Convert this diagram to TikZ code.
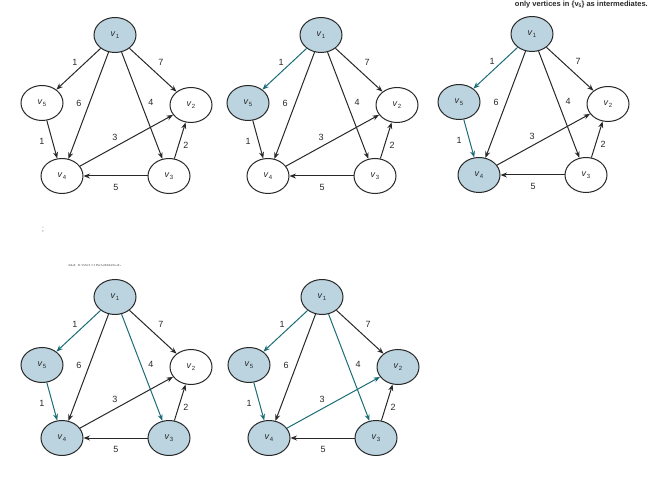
\documentclass[tikz,border=0pt]{standalone}
\usepackage{fontspec}
\setmainfont{Liberation Sans}
\usetikzlibrary{shapes.geometric,arrows.meta}
\definecolor{nodefill}{RGB}{188,212,224}
\definecolor{tealedge}{RGB}{28,108,118}
\definecolor{inkgray}{RGB}{40,40,40}
\newcommand\vsub[1]{\textit{v}\kern0.3pt\raisebox{-0.45ex}{\fontsize{6}{6}\selectfont #1}}
\tikzset{
  x=1pt, y=-1pt,
  vtx/.style={ellipse, draw=inkgray, line width=1pt, fill=white, minimum width=42pt, minimum height=35pt, inner sep=0pt, font=\fontsize{9}{9}\selectfont, text=inkgray},
  shaded/.style={fill=nodefill},
  plain/.style={},
  edge/.style={draw=inkgray, line width=1pt, -{Stealth[length=6.5pt,width=5pt]}},
  tealarrow/.style={draw=tealedge, -{Stealth[length=6.5pt,width=5pt,fill=tealedge]}},
  lbl/.style={font=\fontsize{9}{9}\selectfont, text=inkgray, inner sep=0pt},
}
\newcommand\mygraph[3]{%
\begin{scope}[shift={(#2,#3)}]
  \node[vtx,n1] (#1v1) at (115,35) {\vsub{1}};
  \node[vtx,n5] (#1v5) at (42,103) {\vsub{5}};
  \node[vtx,n2] (#1v2) at (191,105) {\vsub{2}};
  \node[vtx,n4] (#1v4) at (62,176) {\vsub{4}};
  \node[vtx,n3] (#1v3) at (169,176) {\vsub{3}};
  \draw[edge,e15] (#1v1) -- (#1v5);
  \draw[edge,e14] (#1v1) -- (#1v4);
  \draw[edge,e13] (#1v1) -- (#1v3);
  \draw[edge,e12] (#1v1) -- (#1v2);
  \draw[edge,e54] (#1v5) -- (#1v4);
  \draw[edge,e42] (#1v4) -- (#1v2);
  \draw[edge,e32] (#1v3) -- (#1v2);
  \draw[edge,e34] (#1v3) -- (#1v4);
  \node[lbl] (#1l15) at (75,62) {1};
  \node[lbl] (#1l12) at (161,62) {7};
  \node[lbl] (#1l14) at (79,103) {6};
  \node[lbl] (#1l13) at (151,102) {4};
  \node[lbl] (#1l54) at (42,141) {1};
  \node[lbl] (#1l42) at (115,137) {3};
  \node[lbl] (#1l32) at (186,145) {2};
  \node[lbl] (#1l34) at (116,187) {5};
\end{scope}}
\begin{document}
\begin{tikzpicture}
\useasboundingbox (0,0) rectangle (653,486);
% graph 1
\tikzset{n1/.style=shaded,n2/.style=plain,n3/.style=plain,n4/.style=plain,n5/.style=plain,
 e15/.style={},e14/.style={},e13/.style={},e12/.style={},e54/.style={},e42/.style={},e32/.style={},e34/.style={}}
\mygraph{a}{0}{0}
% graph 2
\tikzset{n5/.style=shaded, e15/.style=tealarrow}
\mygraph{b}{206}{0}
% graph 3
\tikzset{n4/.style=shaded, e54/.style=tealarrow}
\mygraph{c}{417}{-1}
% graph 4
\tikzset{n3/.style=shaded, e13/.style=tealarrow}
\mygraph{d}{0}{262}
% graph 5
\tikzset{n2/.style=shaded, e42/.style=tealarrow}
\mygraph{e}{207}{262}
% texts
\node[anchor=east, font=\bfseries\fontsize{7.5}{7.5}\selectfont, text=inkgray, inner sep=0pt] (cap) at (648,4.5) {only vertices in \{v\raisebox{-0.4ex}{\fontsize{5}{5}\selectfont 5}\} as intermediates.};
\begin{scope}
  \clip (40,264.5) rectangle (150,270);
  \node[font=\fontsize{7}{7}\selectfont, text=gray, inner sep=0pt] (cut) at (95,264) {as intermediates.};
\end{scope}
\node[font=\fontsize{8}{8}\selectfont, text=gray, inner sep=0pt] (semi) at (43,230) {;};
\end{tikzpicture}
\end{document}
